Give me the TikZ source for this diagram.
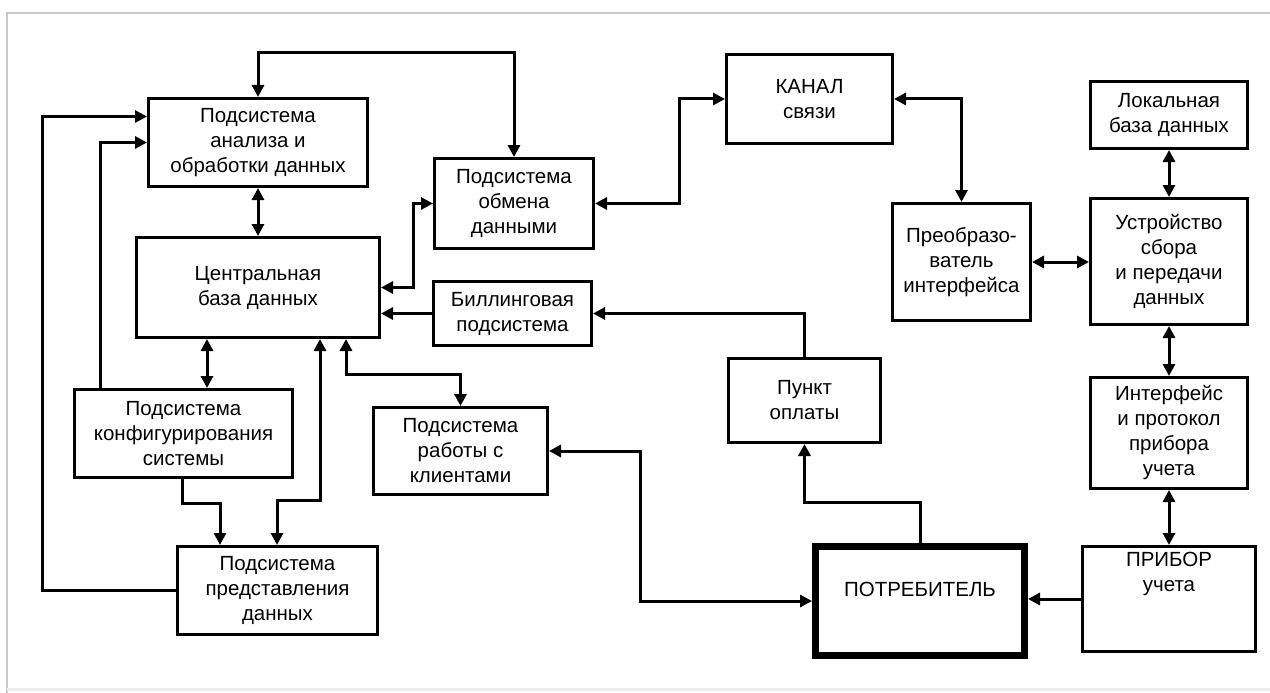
\documentclass[tikz,border=0pt]{standalone}
\usepackage{fontspec}
\setmainfont{Liberation Sans}
\usetikzlibrary{arrows.meta,calc}
\begin{document}
\begin{tikzpicture}[x=1pt,y=-1pt,
  box/.style={draw=black, line width=3pt, anchor=north west, align=center,
    inner sep=0pt, font=\fontsize{20.5}{25}\selectfont},
  lbl/.style={align=center, inner sep=0pt, font=\fontsize{20.5}{25}\selectfont},
  link/.style={line width=3pt, -{Triangle[length=12pt,width=12pt]}},
  both/.style={line width=3pt, {Triangle[length=12pt,width=12pt]}-{Triangle[length=12pt,width=12pt]}}]
\useasboundingbox (0,0) rectangle (1270,693);
\fill[white] (0,0) rectangle (1270,693);
% outer frame
\draw[black!22, line width=2pt] (1270,13) -- (7,13) -- (7,693);
\draw[black!8, line width=3pt] (7,689) -- (1270,689);

% blocks
\node[box, minimum width=219, minimum height=88] (A) at (147,97) {Подсистема\\анализа и\\обработки данных};
\node[box, minimum width=243, minimum height=100] (B) at (135,236) {Центральная\\база данных};
\node[box, minimum width=159, minimum height=90] (C) at (433,157) {Подсистема\\обмена\\данными};
\node[box, minimum width=158, minimum height=64] (D) at (432,280) {Биллинговая\\подсистема};
\node[box, minimum width=166, minimum height=89] (E) at (725,53) {КАНАЛ\\связи};
\node[box, minimum width=157, minimum height=67] (F) at (1089,80) {Локальная\\база данных};
\node[box, minimum width=138, minimum height=117] (G) at (891,202) {Преобразо-\\ватель\\интерфейса};
\node[box, minimum width=157, minimum height=126] (H) at (1089,197) {Устройство\\сбора\\и передачи\\данных};
\node[box, minimum width=218, minimum height=88] (I) at (73,388) {Подсистема\\конфигурирования\\системы};
\node[box, minimum width=174, minimum height=87] (J) at (372,406) {Подсистема\\работы с\\клиентами};
\node[box, minimum width=200, minimum height=88] (K) at (176,545) {Подсистема\\представления\\данных};
\node[box, minimum width=152, minimum height=84] (L) at (727,357) {Пункт\\оплаты};
\node[box, line width=7pt, minimum width=209, minimum height=109] (M) at (812,543) {};
\node[lbl] (Mt) at ($(M.center)+(0,-12)$) {ПОТРЕБИТЕЛЬ};
\node[box, minimum width=157, minimum height=111] (N) at (1089,376) {Интерфейс\\и протокол\\прибора\\учета};
\node[box, minimum width=173, minimum height=105] (O) at (1081,545) {};
\node[lbl] (Ot) at ($(O.center)+(0,-25)$) {ПРИБОР\\учета};

% connections of the analysis subsystem
\draw[both] (A.north) -- ++(0,-44) -| (C.north);
\draw[both] (A.south) -- (A.south |- B.north);
\draw[link] (K.west) -- ++(-134,0) |- ($(A.west)+(0,-26)$);
\draw[link] ([xshift=27pt]I.north west) |- (A.west);

% central database links
\draw[both] (B.east) -- ++(32,0) |- (C.west);
\draw[link] (D.west) -- (D.west -| B.east);
\draw[both] ([xshift=72pt]B.south west) -- ([xshift=72pt]B.south west |- I.north);
\draw[link] ([xshift=109pt]I.south west) -- ++(0,24) -| ([xshift=44pt]K.north west);
\draw[both] ([xshift=101pt]K.north west) -- ++(0,-45) -| ([xshift=185pt]B.south west);
\draw[both] ([xshift=211pt]B.south west) -- ++(0,35) -| (J.north);

% communication channel and metering chain
\draw[both] (C.east) -- ++(84,0) |- (E.west);
\draw[both] (E.east) -| (G.north);
\draw[both] (F.south) -- (F.south |- H.north);
\draw[both] (G.east) -- (G.east -| H.west);
\draw[both] (H.south) -- (H.south |- N.north);
\draw[both] (N.south) -- (N.south |- O.north);
\draw[link] (O.west) -- (O.west -| M.east);

% consumer, payment and billing
\draw[link] (M.north) -- ++(0,-41) -| (L.south);
\draw[link] (L.north) |- (D.east);
\draw[both] (J.east) -- ++(91,0) |- (M.west);
\end{tikzpicture}
\end{document}
